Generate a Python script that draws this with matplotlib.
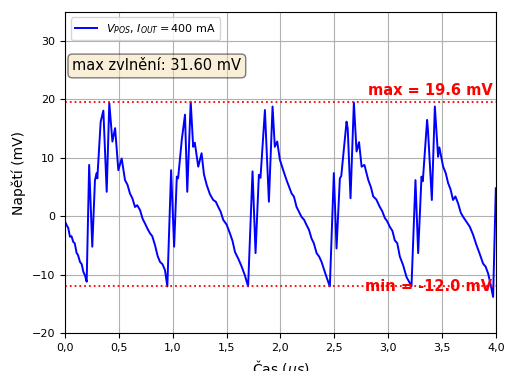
import matplotlib
matplotlib.use("Agg")
import matplotlib.pyplot as plt
from matplotlib.ticker import FuncFormatter

t_us = [0.0, 0.015, 0.03, 0.046, 0.06, 0.077, 0.09, 0.108, 0.12, 0.139, 0.155, 0.17, 0.185, 0.201,
        0.224, 0.253, 0.278, 0.294, 0.30,
        0.331, 0.356, 0.387, 0.411, 0.44, 0.465, 0.495, 0.526, 0.557, 0.58, 0.603, 0.625, 0.65,
        0.67, 0.696, 0.72, 0.742,
        0.765, 0.789, 0.81, 0.835, 0.86, 0.882, 0.905, 0.928, 0.95, 0.985, 1.013, 1.038, 1.05,
        1.084, 1.114, 1.135, 1.167,
        1.19, 1.205, 1.237, 1.268, 1.29, 1.315, 1.345, 1.376, 1.40, 1.423, 1.445, 1.469, 1.50,
        1.531, 1.555, 1.578, 1.61, 1.64, 1.67, 1.70, 1.741,
        1.769, 1.80, 1.815, 1.856, 1.893, 1.927, 1.948, 1.97, 1.995, 2.026, 2.057, 2.08, 2.104,
        2.125, 2.15,
        2.196, 2.22, 2.243, 2.265, 2.289, 2.31, 2.336, 2.36, 2.382, 2.405, 2.428, 2.459, 2.496,
        2.521, 2.552, 2.565, 2.614, 2.625,
        2.651, 2.682, 2.707, 2.73, 2.754, 2.78, 2.816, 2.84, 2.862, 2.89, 2.923, 2.945, 2.97,
        2.99, 3.016, 3.04, 3.062, 3.085, 3.109,
        3.14, 3.171, 3.195, 3.217, 3.254, 3.279, 3.31, 3.322, 3.362, 3.37, 3.406, 3.434, 3.464,
        3.476, 3.511, 3.535, 3.557, 3.58, 3.603, 3.625, 3.65, 3.675, 3.697, 3.73, 3.759, 3.79,
        3.82, 3.85, 3.882, 3.905, 3.929, 3.95, 3.975, 4.0]
v_mV = [-0.9, -1.5, -2.0, -3.5, -3.4, -4.4, -4.6, -6.3, -6.6, -7.8, -8.2, -9.5, -10.1, -11.2,
        8.8, -5.2, 6.2, 7.4, 6.5,
        16.2, 18.1, 4.2, 19.4, 12.8, 15.1, 7.9, 9.9, 6.2, 5.4, 3.9, 3.1, 1.6,
        1.9, 1.1, -0.4, -1.2,
        -2.1, -2.9, -3.4, -4.9, -6.8, -7.8, -8.2, -9.2, -12.0, 7.9, -5.2, 6.8, 6.5,
        13.1, 17.4, 4.2, 19.6,
        11.9, 12.6, 8.5, 10.8, 7.2, 5.4, 3.8, 2.8, 2.5, 1.6, 0.8, -0.6, -1.4,
        -2.9, -4.2, -6.1, -7.3, -8.6, -10.1, -12.0, 7.7,
        -6.3, 7.1, 6.6, 18.2, 2.5, 18.8, 11.9, 12.8, 9.7, 7.9, 6.2, 5.1, 3.9,
        3.4, 1.6,
        -0.1, -0.6, -1.5, -2.3, -3.8, -4.6, -6.3, -6.9, -7.8, -9.1, -10.4, -12.0, 7.4,
        -5.5, 6.5, 6.9, 16.2, 15.0,
        3.1, 19.5, 11.1, 12.7, 8.5, 8.8, 6.2, 5.0, 3.4, 2.9, 1.6, 0.9, -0.3,
        -0.8, -1.8, -2.5, -4.1, -4.6, -6.9,
        -8.4, -10.4, -11.2, -12.0, 6.2, -6.3, 6.8, 6.0, 16.5, 14.8, 2.8, 18.8, 10.2,
        11.8, 8.5, 7.4, 5.7, 4.6, 2.8, 3.4, 2.2, 0.6, -0.1, -1.0, -1.8, -3.2,
        -4.9, -6.4, -8.1, -8.6, -9.8, -11.5, -13.8, 4.8]

v_max = 19.6
v_min = -12.0
ripple = 31.60
y_ticks = [-20, -10, 0, 10, 20, 30]
x_ticks = [0.0, 0.5, 1.0, 1.5, 2.0, 2.5, 3.0, 3.5, 4.0]

fig = plt.figure(figsize=(5.08, 3.71), dpi=100)
ax = fig.add_axes([0.128, 0.102, 0.848, 0.866])
ax.plot(t_us, v_mV, color="blue", lw=1.4, label=r"$V_{POS}$, $I_{OUT} = 400$ mA")
ax.axhline(v_max, color="red", ls=":", lw=1.3)
ax.axhline(v_min, color="red", ls=":", lw=1.3)
ax.text(3.97, v_max + 0.6, f"max = {v_max:.1f} mV", color="red", fontweight="bold",
        ha="right", va="bottom", fontsize=10.5)
ax.text(3.97, v_min, f"min = {v_min:.1f} mV", color="red", fontweight="bold",
        ha="right", va="center", fontsize=10.5)
ax.text(0.017, 0.855, f"max zvlnění: {ripple:.2f} mV", transform=ax.transAxes, fontsize=10.5,
        va="top", ha="left",
        bbox=dict(boxstyle="round", facecolor="wheat", alpha=0.5))
ax.set_xlim(0, 4.0)
ax.set_ylim(-20, 35)
ax.set_xticks(x_ticks)
ax.set_yticks(y_ticks)
ax.xaxis.set_major_formatter(FuncFormatter(lambda x, p: f"{x:.1f}".replace(".", ",")))
ax.tick_params(labelsize=8)
ax.grid(True, color="#b0b0b0", lw=0.8)
ax.set_xlabel("Čas ($us$)", fontsize=10)
ax.set_ylabel("Napětí (mV)", fontsize=10)
ax.legend(loc="upper left", fontsize=8)
fig.savefig("out.png", dpi=100)
